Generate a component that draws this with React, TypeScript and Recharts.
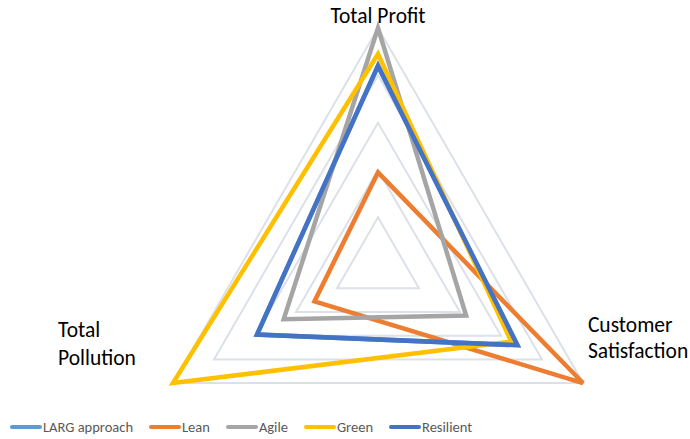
import React from 'react';
import { RadarChart, Radar, PolarGrid, PolarAngleAxis, PolarRadiusAxis, Legend } from 'recharts';

const categories = ['Total Profit', 'Customer Satisfaction', 'Total Pollution'];
const largApproach = [0.84, 0.68, 0.59];
const lean = [0.39, 1.0, 0.31];
const agile = [1.0, 0.43, 0.46];
const green = [0.89, 0.65, 1.0];
const resilient = [0.84, 0.68, 0.59];
const gridLevels = [0.2, 0.4, 0.6, 0.8, 1.0];

const seriesNames = ['LARG approach', 'Lean', 'Agile', 'Green', 'Resilient'];
const seriesKeys = ['larg', 'lean', 'agile', 'green', 'resilient'];
const seriesColors = ['#5B9BD5', '#ED7D31', '#A5A5A5', '#FFC000', '#4472C4'];
const seriesValues = [largApproach, lean, agile, green, resilient];

const OUTER_R = 236.7;

const data = categories.map((c, i) => {
  const row: any = { category: c };
  seriesKeys.forEach((k, j) => {
    row[k] = seriesValues[j][i];
  });
  return row;
});

const FONT = 'Carlito, Lato, "Open Sans", sans-serif';

const AngleTick = (props: any) => {
  const { x, y, payload } = props;
  const v = payload.value;
  const style = { fontFamily: FONT, fontSize: 21.5, fill: '#000' };
  if (v === 'Total Profit') {
    return (
      <text x={x} y={y - 4} textAnchor="middle" dominantBaseline="central" style={style}>
        Total Profit
      </text>
    );
  }
  if (v === 'Customer Satisfaction') {
    return (
      <text textAnchor="start" dominantBaseline="central" style={style}>
        <tspan x={x - 2} y={y - 62}>Customer</tspan>
        <tspan x={x - 2} y={y - 36}>Satisfaction</tspan>
      </text>
    );
  }
  return (
    <text textAnchor="start" dominantBaseline="central" style={style}>
      <tspan x={x - 108} y={y - 57}>Total</tspan>
      <tspan x={x - 108} y={y - 29}>Pollution</tspan>
    </text>
  );
};

const LegendContent = () => (
  <div style={{ display: 'flex', alignItems: 'center', paddingLeft: 10, fontFamily: FONT, fontSize: 14.5, color: '#595959' }}>
    {seriesNames.map((n, i) => (
      <div key={n} style={{ display: 'flex', alignItems: 'center', marginRight: 16 }}>
        <span style={{ display: 'inline-block', width: 32, height: 4, borderRadius: 2, background: seriesColors[i], marginRight: 1 }} />
        <span>{n}</span>
      </div>
    ))}
  </div>
);

export default function App() {
  return (
    <div style={{ position: 'absolute', left: 0, top: 0, width: 690, height: 439, background: '#fff' }}>
      <RadarChart width={690} height={439} data={data} cx={378} cy={264.7} outerRadius={OUTER_R} margin={{ top: 0, right: 0, bottom: 0, left: 0 }}>
        <PolarGrid radialLines={false} stroke="#DCE1E8" strokeWidth={2} polarRadius={gridLevels.map((f) => f * OUTER_R)} />
        <PolarRadiusAxis domain={[0, 1]} tickCount={6} axisLine={false} tick={false} />
        <PolarAngleAxis dataKey="category" tick={<AngleTick />} tickLine={false} axisLine={false} />
        {seriesKeys.map((k, i) => (
          <Radar
            key={k}
            name={seriesNames[i]}
            dataKey={k}
            stroke={seriesColors[i]}
            strokeWidth={4.5}
            strokeLinejoin="miter"
            fill="none"
            fillOpacity={0}
            dot={false}
            isAnimationActive={false}
          />
        ))}
        <Legend content={<LegendContent />} wrapperStyle={{ position: 'absolute', left: 0, top: 418, width: 690 }} />
      </RadarChart>
    </div>
  );
}
